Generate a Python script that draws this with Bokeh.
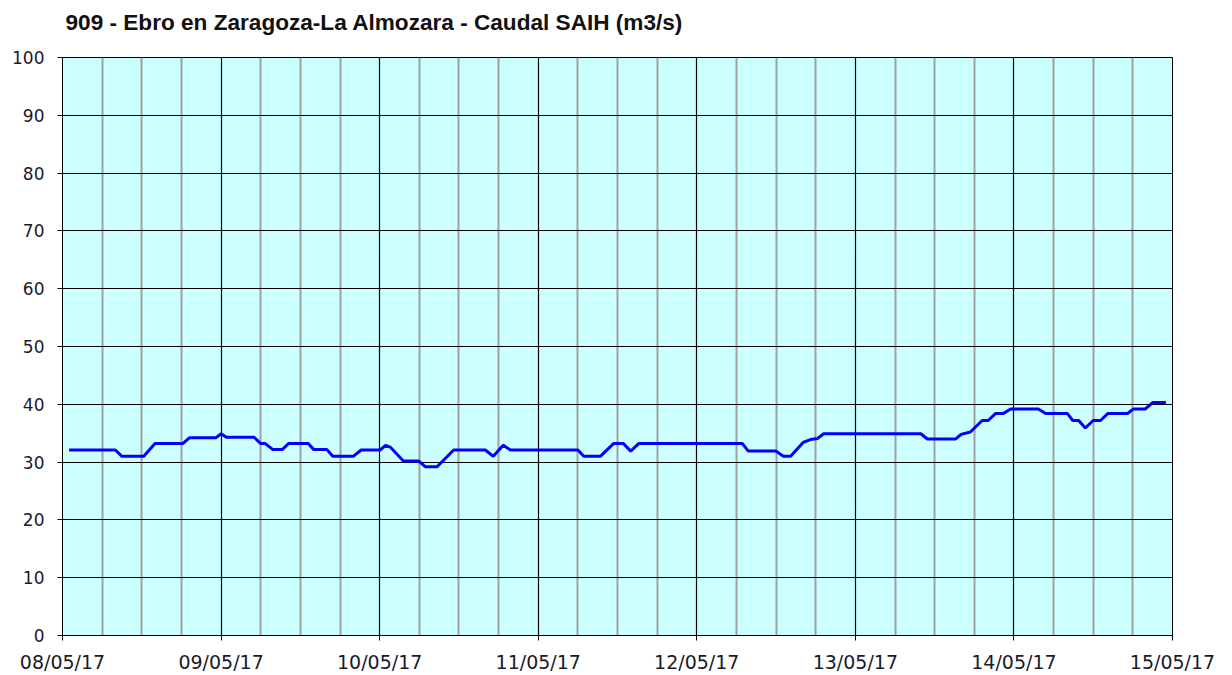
from bokeh.plotting import figure
from bokeh.models import FixedTicker, Range1d
from bokeh.embed import file_html
from bokeh.resources import INLINE

# hours since 08/05/17 00:00
hours = [1, 8, 9, 12.3, 14, 18.2, 19.2, 23.2, 24, 24.8, 29, 30, 30.7, 31.8, 33.3, 34.2,
         37.2, 38, 40, 40.9, 44, 45.2, 48.1, 48.9, 49.6, 51.6, 53.9, 54.9, 56.7, 59.2,
         64, 65.2, 66.7, 67.8, 78, 78.9, 81.4, 83.4, 84.9, 86, 87.2, 102.9, 103.8, 108,
         109.1, 110.2, 112.1, 113.2, 114.3, 115.2, 129.9, 130.9, 135.2, 136.0, 137.4,
         139.2, 140.1, 141.2, 142.4, 143.5, 147.7, 148.8, 152.1, 152.9, 153.8, 154.8,
         156, 157.1, 158.2, 161.2, 162.1, 163.9, 165, 167]
caudal = [32.1, 32.1, 31.0, 31.0, 33.2, 33.2, 34.2, 34.2, 34.9, 34.3, 34.3, 33.2, 33.2, 32.2, 32.2, 33.2,
          33.2, 32.2, 32.2, 31.0, 31.0, 32.1, 32.1, 32.9, 32.6, 30.2, 30.2, 29.2, 29.2, 32.1,
          32.1, 31.0, 32.9, 32.1, 32.1, 31.0, 31.0, 33.2, 33.2, 31.9, 33.2, 33.2, 31.9, 31.9,
          31.0, 31.0, 33.4, 33.9, 34.1, 34.9, 34.9, 34.0, 34.0, 34.8, 35.2,
          37.2, 37.2, 38.4, 38.4, 39.2, 39.2, 38.4, 38.4, 37.2, 37.2, 35.9,
          37.2, 37.2, 38.4, 38.4, 39.2, 39.2, 40.3, 40.3]

title_text = "909 - Ebro en Zaragoza-La Almozara - Caudal SAIH (m3/s)"
day_ticks = [0, 24, 48, 72, 96, 120, 144, 168]
day_labels = ["08/05/17", "09/05/17", "10/05/17", "11/05/17",
              "12/05/17", "13/05/17", "14/05/17", "15/05/17"]
quarter_ticks = [h for h in range(6, 168, 6) if h % 24 != 0]
y_ticks = [0, 10, 20, 30, 40, 50, 60, 70, 80, 90, 100]

p = figure(width=1216, height=675, output_backend="svg", toolbar_location=None,
           x_range=Range1d(0, 168), y_range=Range1d(0, 100),
           min_border_left=62, min_border_right=44, min_border_top=57, min_border_bottom=40)

p.title.text = title_text
p.title.text_font = "Liberation Sans"
p.title.text_font_size = "22.6px"
p.title.text_font_style = "bold"
p.title.text_color = "#111111"
p.title.standoff = 0
p.title.offset = 3
p.title.vertical_align = "top"
p.title.padding = dict(left=0, right=0, top=8, bottom=21)

p.background_fill_color = "#CCFFFF"
p.border_fill_color = "white"
p.outline_line_color = "black"
p.outline_line_width = 1

p.xaxis.ticker = FixedTicker(ticks=day_ticks, minor_ticks=quarter_ticks)
p.xaxis.major_label_overrides = {t: l for t, l in zip(day_ticks, day_labels)}
p.yaxis.ticker = FixedTicker(ticks=y_ticks)

for ax in (p.xaxis, p.yaxis):
    ax.major_label_text_font = "DejaVu Sans"
    ax.major_label_text_color = "#1a1a2a"
    ax.axis_line_color = "black"
    ax.major_tick_line_color = "black"
    ax.major_tick_out = 5
    ax.major_tick_in = 0
    ax.minor_tick_line_color = None
p.xaxis.major_label_text_font_size = "19px"
p.yaxis.major_label_text_font_size = "17px"
p.xaxis.major_label_standoff = 10
p.yaxis.major_label_standoff = 13

p.xgrid.grid_line_color = "black"
p.xgrid.grid_line_width = 1.2
p.xgrid.minor_grid_line_color = "#A0A0A0"
p.xgrid.minor_grid_line_width = 2
p.ygrid.grid_line_color = "black"
p.ygrid.grid_line_width = 1.2

p.line(hours, caudal, line_color="#0000FF", line_width=3)

open("out.html", "w").write(file_html(p, INLINE))
